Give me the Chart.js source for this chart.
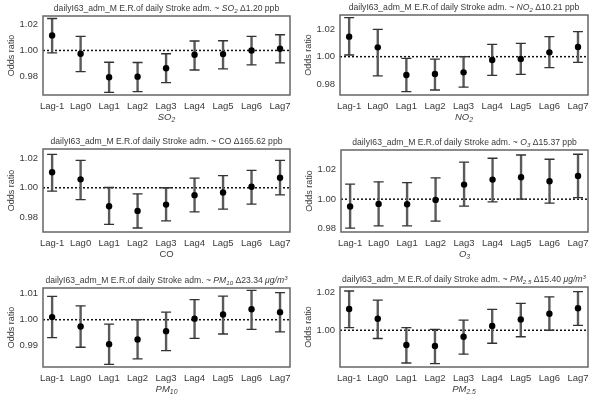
<!DOCTYPE html>
<html lang="en">
<head>
<meta charset="UTF-8" />
<title>Odds ratio by lag</title>
<script src="https://cdn.jsdelivr.net/npm/chart.js@4.4.0/dist/chart.umd.min.js"></script>
<style>
  body { margin: 0; background: #fff; }
  #wrap { position: relative; width: 600px; height: 400px; }
  canvas { position: absolute; }
</style>
</head>
<body>
<div id="wrap">
  <canvas id="c1" width="300" height="135" style="left:0;top:0"></canvas>
  <canvas id="c2" width="300" height="135" style="left:300px;top:0"></canvas>
  <canvas id="c3" width="300" height="130" style="left:0;top:135px"></canvas>
  <canvas id="c4" width="300" height="130" style="left:300px;top:135px"></canvas>
  <canvas id="c5" width="300" height="135" style="left:0;top:265px"></canvas>
  <canvas id="c6" width="300" height="135" style="left:300px;top:265px"></canvas>
</div>
<script>
const lags = ['Lag-1', 'Lag0', 'Lag1', 'Lag2', 'Lag3', 'Lag4', 'Lag5', 'Lag6', 'Lag7'];

// odds ratio, lower / upper 95% CI per lag
const so2OR = [1.0115, 0.9975, 0.9795, 0.9800, 0.9864, 0.9967, 0.9972, 1.0000, 1.0013];
const so2Lo = [0.9982, 0.9838, 0.9680, 0.9685, 0.9754, 0.9851, 0.9859, 0.9890, 0.9905];
const so2Hi = [1.0244, 1.0108, 0.9910, 0.9908, 0.9975, 1.0072, 1.0074, 1.0108, 1.0120];

const no2OR = [1.0144, 1.0067, 0.9868, 0.9875, 0.9887, 0.9976, 0.9983, 1.0031, 1.0070];
const no2Lo = [1.0012, 0.9861, 0.9748, 0.9760, 0.9780, 0.9866, 0.9873, 0.9921, 0.9959];
const no2Hi = [1.0281, 1.0197, 0.9988, 0.9983, 1.0000, 1.0089, 1.0096, 1.0144, 1.0180];

const coOR = [1.0105, 1.0057, 0.9875, 0.9843, 0.9886, 0.9950, 0.9968, 1.0007, 1.0068];
const coLo = [0.9977, 0.9920, 0.9752, 0.9727, 0.9775, 0.9836, 0.9855, 0.9889, 0.9952];
const coHi = [1.0227, 1.0186, 1.0002, 0.9959, 1.0000, 1.0066, 1.0082, 1.0118, 1.0186];

const o3OR = [0.9950, 0.9968, 0.9966, 0.9995, 1.0099, 1.0133, 1.0149, 1.0122, 1.0158];
const o3Lo = [0.9803, 0.9819, 0.9819, 0.9851, 0.9953, 0.9982, 1.0000, 0.9973, 1.0011];
const o3Hi = [1.0102, 1.0118, 1.0113, 1.0145, 1.0251, 1.0278, 1.0300, 1.0271, 1.0305];

const pm10OR = [1.0010, 0.9974, 0.9906, 0.9924, 0.9956, 1.0004, 1.0020, 1.0040, 1.0029];
const pm10Lo = [0.9931, 0.9894, 0.9828, 0.9849, 0.9881, 0.9928, 0.9945, 0.9963, 0.9953];
const pm10Hi = [1.0090, 1.0053, 0.9983, 1.0000, 1.0029, 1.0077, 1.0091, 1.0113, 1.0104];

const pm25OR = [1.0111, 1.0060, 0.9923, 0.9918, 0.9966, 1.0022, 1.0056, 1.0086, 1.0115];
const pm25Lo = [1.0014, 0.9957, 0.9829, 0.9826, 0.9875, 0.9932, 0.9966, 1.0000, 1.0026];
const pm25Hi = [1.0205, 1.0157, 1.0014, 1.0005, 1.0053, 1.0109, 1.0140, 1.0174, 1.0202];

const ticks3 = [0.98, 1.00, 1.02];
const ticksPM10 = [0.99, 1.00, 1.01];
const ticksPM25 = [1.00, 1.02];

const head = 'dailyI63_adm_M E.R.of daily Stroke adm. ~ ';
// text pieces: '' normal, 'i' italic, 'is' italic subscript, 'ip' italic superscript
const panels = [
  { id: 'c1', or: so2OR, lo: so2Lo, hi: so2Hi, ticks: ticks3, ymin: 0.966, ymax: 1.0263, box: [43, 16, 290, 95],
    title: [[head, ''], ['SO', 'i'], ['2', 'is'], [' \u03941.20 ppb', '']], xlab: [['SO', 'i'], ['2', 'is']] },
  { id: 'c2', or: no2OR, lo: no2Lo, hi: no2Hi, ticks: ticks3, ymin: 0.9724, ymax: 1.030, box: [40, 15, 288, 95],
    title: [[head, ''], ['NO', 'i'], ['2', 'is'], [' \u039410.21 ppb', '']], xlab: [['NO', 'i'], ['2', 'is']] },
  { id: 'c3', or: coOR, lo: coLo, hi: coHi, ticks: ticks3, ymin: 0.970, ymax: 1.0263, box: [43, 14, 290, 97],
    title: [[head + 'CO \u0394165.62 ppb', '']], xlab: [['CO', '']] },
  { id: 'c4', or: o3OR, lo: o3Lo, hi: o3Hi, ticks: ticks3, ymin: 0.9777, ymax: 1.0334, box: [41, 15, 288, 97],
    title: [[head, ''], ['O', 'i'], ['3', 'is'], [' \u039415.37 ppb', '']], xlab: [['O', 'i'], ['3', 'is']] },
  { id: 'c5', or: pm10OR, lo: pm10Lo, hi: pm10Hi, ticks: ticksPM10, ymin: 0.9818, ymax: 1.0122, box: [43, 23, 290, 102],
    title: [[head, ''], ['PM', 'i'], ['10', 'is'], [' \u039423.34 ', ''], ['\u03bcg/m', 'i'], ['3', 'ip']], xlab: [['PM', 'i'], ['10', 'is']] },
  { id: 'c6', or: pm25OR, lo: pm25Lo, hi: pm25Hi, ticks: ticksPM25, ymin: 0.9808, ymax: 1.0226, box: [40, 22, 288, 102],
    title: [[head, ''], ['PM', 'i'], ['2.5', 'is'], [' \u039415.40 ', ''], ['\u03bcg/m', 'i'], ['3', 'ip']], xlab: [['PM', 'i'], ['2.5', 'is']] }
];

const FAMILY = '"Liberation Sans", Arial, sans-serif';
const TEXT = '#3a3a3a';
const YW = 40;   // y axis width
const XH = 30;   // x axis height

function drawRich(ctx, segs, cx, base, size, color) {
  const parts = segs.map(([t, st]) => {
    const small = st.includes('s') || st.includes('p');
    const sz = small ? size * 0.72 : size;
    const font = (st.includes('i') ? 'italic ' : '') + sz + 'px ' + FAMILY;
    ctx.font = font;
    const dy = st.includes('s') ? size * 0.25 : (st.includes('p') ? -size * 0.4 : 0);
    return { t, font, dy, w: ctx.measureText(t).width };
  });
  const total = parts.reduce((s, p) => s + p.w, 0);
  let xx = cx - total / 2;
  ctx.fillStyle = color;
  ctx.textAlign = 'left';
  ctx.textBaseline = 'alphabetic';
  parts.forEach(p => {
    ctx.font = p.font;
    ctx.fillText(p.t, xx, base + p.dy);
    xx += p.w;
  });
}

function panelPlugin(p) {
  return {
    id: 'panel',
    beforeDatasetsDraw(chart) {
      const { ctx, chartArea: a, scales: { x, y } } = chart;
      ctx.save();
      const y1 = y.getPixelForValue(1);
      ctx.setLineDash([2, 2]);
      ctx.lineWidth = 1.5;
      ctx.strokeStyle = '#111';
      ctx.beginPath();
      ctx.moveTo(a.left, y1);
      ctx.lineTo(a.right, y1);
      ctx.stroke();
      ctx.setLineDash([]);
      p.lo.forEach((lo, i) => {
        const px = x.getPixelForValue(i);
        const yl = y.getPixelForValue(lo);
        const yh = y.getPixelForValue(p.hi[i]);
        ctx.strokeStyle = '#5a5a5a';
        ctx.lineWidth = 2.4;
        ctx.beginPath();
        ctx.moveTo(px, yl);
        ctx.lineTo(px, yh);
        ctx.stroke();
        ctx.strokeStyle = '#333';
        ctx.lineWidth = 1.3;
        ctx.beginPath();
        ctx.moveTo(px - 5, yl); ctx.lineTo(px + 5, yl);
        ctx.moveTo(px - 5, yh); ctx.lineTo(px + 5, yh);
        ctx.stroke();
      });
      ctx.restore();
    },
    afterDraw(chart) {
      const { ctx, chartArea: a } = chart;
      ctx.save();
      ctx.strokeStyle = '#666';
      ctx.lineWidth = 1.5;
      ctx.strokeRect(a.left, a.top, a.right - a.left, a.bottom - a.top);
      const cx = (a.left + a.right) / 2;
      drawRich(ctx, p.title, cx, a.top - 5, 8.6, TEXT);
      drawRich(ctx, p.xlab, cx, a.bottom + 25, 9.5, TEXT);
      ctx.restore();
    }
  };
}

function makeChart(p) {
  const canvas = document.getElementById(p.id);
  const H = canvas.height;
  new Chart(canvas.getContext('2d'), {
    type: 'scatter',
    data: {
      datasets: [{
        data: p.or.map((v, i) => ({ x: i, y: v })),
        pointRadius: 3.2,
        pointBackgroundColor: '#000',
        pointBorderColor: '#000',
        pointBorderWidth: 0,
        showLine: false
      }]
    },
    options: {
      responsive: false,
      animation: false,
      layout: { padding: { left: p.box[0] - YW, top: p.box[1], right: 300 - p.box[2], bottom: H - p.box[3] - XH } },
      plugins: { legend: { display: false }, tooltip: { enabled: false } },
      scales: {
        x: {
          type: 'linear', min: -0.32, max: 8.35,
          grid: { display: false, drawTicks: false },
          border: { display: false },
          afterBuildTicks: s => { s.ticks = lags.map((_, i) => ({ value: i })); },
          afterFit: s => { s.height = XH; },
          ticks: { autoSkip: false, maxRotation: 0, padding: 6, color: TEXT,
                   font: { family: FAMILY, size: 9.5 }, callback: v => lags[v] }
        },
        y: {
          min: p.ymin, max: p.ymax,
          grid: { display: false, drawTicks: false },
          border: { display: false },
          afterBuildTicks: s => { s.ticks = p.ticks.map(v => ({ value: v })); },
          afterFit: s => { s.width = YW; },
          ticks: { padding: 5, color: TEXT, font: { family: FAMILY, size: 9.5 }, callback: v => v.toFixed(2) },
          title: { display: true, text: 'Odds ratio', color: TEXT, font: { family: FAMILY, size: 9 }, padding: { top: 3, bottom: 0 } }
        }
      }
    },
    plugins: [panelPlugin(p)]
  });
}

panels.forEach(makeChart);
</script>
</body>
</html>
